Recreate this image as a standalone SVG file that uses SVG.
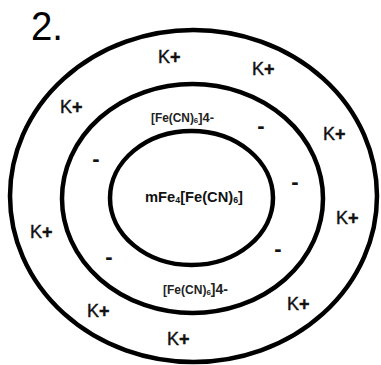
<svg xmlns="http://www.w3.org/2000/svg" width="381" height="365" viewBox="0 0 381 365">
<style>
.ring{fill:none;stroke:#000;stroke-width:4.5}
.k{font-family:"Liberation Sans",Arial,sans-serif;font-size:18px;fill:#111;stroke:#111;stroke-width:0.4}
.k .p{font-weight:bold}
.m{font-family:"Liberation Sans",Arial,sans-serif;font-size:22px;font-weight:bold;fill:#111;text-anchor:middle}
.f{font-family:"Liberation Sans",Arial,sans-serif;font-size:12px;font-weight:bold;fill:#222}
.c{font-family:"Liberation Sans",Arial,sans-serif;font-size:15px;font-weight:bold;fill:#111}
.t{font-family:"Liberation Sans",Arial,sans-serif;font-size:41px;fill:#000}
</style>
<rect width="381" height="365" fill="#fff"/>
<text class="t" x="31" y="40" textLength="32" lengthAdjust="spacingAndGlyphs">2.</text>
<g id="outer">
<ellipse class="ring" cx="193.5" cy="196" rx="183.5" ry="166"/>
</g>
<g id="middle">
<ellipse class="ring" cx="192.5" cy="198.5" rx="130.5" ry="114.5"/>
</g>
<g id="inner">
<ellipse class="ring" cx="191.5" cy="198" rx="81.5" ry="67"/>
<text class="c" x="145" y="202" textLength="98" lengthAdjust="spacingAndGlyphs">mFe<tspan font-size="9" dy="1">4</tspan><tspan dy="-1">[Fe(CN)</tspan><tspan font-size="9" dy="1">6</tspan><tspan dy="-1">]</tspan></text>
</g>
<g id="anions">
<text class="f" x="151" y="122" textLength="63" lengthAdjust="spacingAndGlyphs">[Fe(CN)<tspan font-size="8" dy="1">6</tspan><tspan dy="-1" font-size="13">]4-</tspan></text>
<text class="f" x="163" y="294" textLength="65" lengthAdjust="spacingAndGlyphs">[Fe(CN)<tspan font-size="8" dy="1">6</tspan><tspan dy="-1" font-size="14">]4-</tspan></text>
<text class="m" x="96" y="166">-</text>
<text class="m" x="261" y="133">-</text>
<text class="m" x="295" y="189">-</text>
<text class="m" x="278" y="256">-</text>
<text class="m" x="109" y="264">-</text>
</g>
<g id="cations">
<text class="k" x="158" y="63">K<tspan class="p">+</tspan></text>
<text class="k" x="252" y="75">K<tspan class="p">+</tspan></text>
<text class="k" x="60" y="113">K<tspan class="p">+</tspan></text>
<text class="k" x="323" y="140">K<tspan class="p">+</tspan></text>
<text class="k" x="336" y="224">K<tspan class="p">+</tspan></text>
<text class="k" x="30" y="238">K<tspan class="p">+</tspan></text>
<text class="k" x="87" y="317">K<tspan class="p">+</tspan></text>
<text class="k" x="287" y="310">K<tspan class="p">+</tspan></text>
<text class="k" x="167" y="345">K<tspan class="p">+</tspan></text>
</g>
</svg>
